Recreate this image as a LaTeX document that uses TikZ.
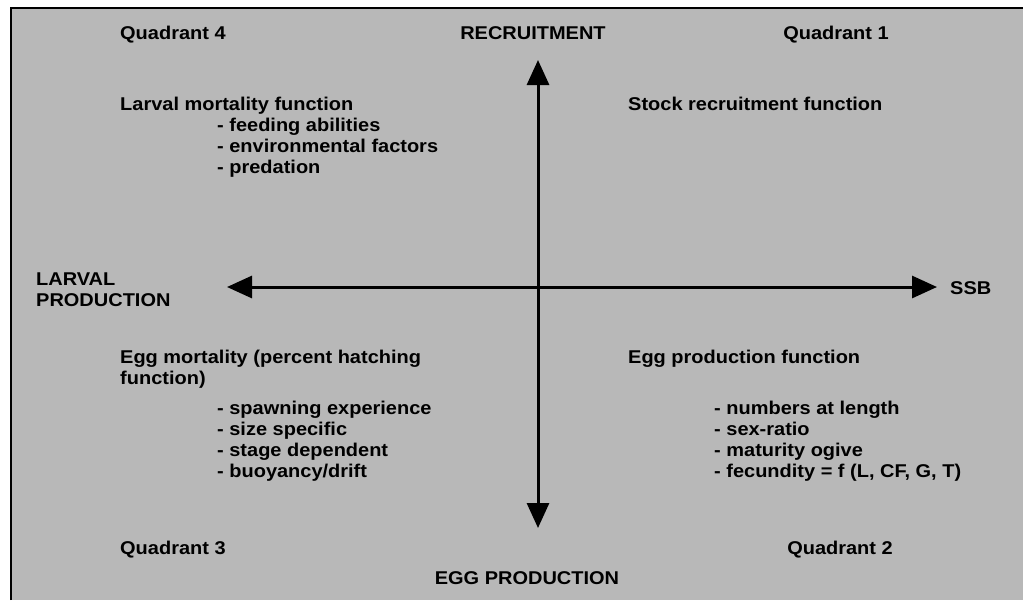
\documentclass[tikz,border=0pt]{standalone}
\usepackage{fontspec}
\setmainfont[FakeStretch=1.08]{Liberation Sans}
\usetikzlibrary{arrows.meta}
\definecolor{bggray}{gray}{0.72}
\begin{document}
\begin{tikzpicture}[x=1pt,y=-1pt,
  lbl/.style={font=\bfseries\fontsize{18.5}{21}\selectfont, inner sep=0pt, anchor=base west},
  ctr/.style={font=\bfseries\fontsize{18.5}{21}\selectfont, inner sep=0pt, anchor=base},
  axis/.style={line width=3pt, {Triangle[length=25pt,width=22pt]}-{Triangle[length=25pt,width=22pt]}}]
\useasboundingbox (0,0) rectangle (1023,600);
\fill[white] (0,0) rectangle (1023,600);
\fill[bggray] (11,8) rectangle (1023,600);
\draw[line width=2pt] (11,600) -- (11,8) -- (1023,8);
% axes
\coordinate (ytop) at (538,60);
\coordinate (ybot) at (538,528);
\coordinate (xleft) at (227,287);
\coordinate (xright) at (937,287);
\draw[axis] (ybot) -- (ytop);
\draw[axis] (xleft) -- (xright);
% axis labels
\node[ctr] (rec) at (533,39) {RECRUITMENT};
\node[ctr] (egg) at (527,584) {EGG PRODUCTION};
\node[lbl] (ssb) at (950,294) {SSB};
\node[lbl, align=left, anchor=north west] (lp) at (36,273) {LARVAL\\PRODUCTION};
% quadrants
\node[lbl] (q4) at (120,39) {Quadrant 4};
\node[ctr] (q1) at (836,39) {Quadrant 1};
\node[lbl] (q3) at (120,554) {Quadrant 3};
\node[ctr] (q2) at (840,554) {Quadrant 2};
% quadrant 4 text
\node[lbl] (lmf) at (120,110) {Larval mortality function};
\node[lbl] (lm1) at (217,131) {- feeding abilities};
\node[lbl] (lm2) at (217,152) {- environmental factors};
\node[lbl] (lm3) at (217,173) {- predation};
% quadrant 1 text
\node[lbl] (srf) at (628,110) {Stock recruitment function};
% quadrant 3 text
\node[lbl] (emf) at (120,363) {Egg mortality (percent hatching};
\node[lbl] (emf2) at (120,384) {function)};
\node[lbl] (em1) at (217,414) {- spawning experience};
\node[lbl] (em2) at (217,435) {- size specific};
\node[lbl] (em3) at (217,456) {- stage dependent};
\node[lbl] (em4) at (217,477) {- buoyancy/drift};
% quadrant 2 text
\node[lbl] (epf) at (628,363) {Egg production function};
\node[lbl] (ep1) at (714,414) {- numbers at length};
\node[lbl] (ep2) at (714,435) {- sex-ratio};
\node[lbl] (ep3) at (714,456) {- maturity ogive};
\node[lbl] (ep4) at (714,477) {- fecundity = f (L, CF, G, T)};
\end{tikzpicture}
\end{document}
